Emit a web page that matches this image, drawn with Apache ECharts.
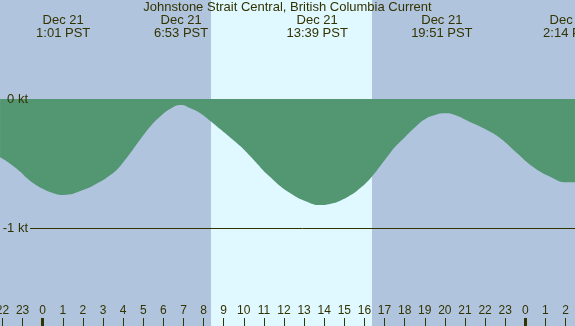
<!DOCTYPE html>
<html>
<head>
<meta charset="utf-8">
<script src="https://cdn.jsdelivr.net/npm/echarts@6/dist/echarts.min.js"></script>
<style>
  html, body { margin: 0; padding: 0; background: #B0C4DE; }
  #main { width: 575px; height: 326px; }
</style>
</head>
<body>
<div id="main"></div>
<script>
// hours since midnight Dec 21 (PST) and current in knots
var hours = [-2.12, -1.62, -1.13, -0.80, -0.48, 0.00, 0.36, 1.01, 2.00, 2.85, 3.30, 3.70, 4.10, 4.49, 4.84, 5.34, 5.83, 6.33, 6.88, 7.32, 7.82, 8.32, 8.82, 9.31, 9.81, 10.31, 11.30, 12.30, 13.29, 13.79, 14.29, 14.79, 15.28, 15.78, 16.28, 16.78, 17.27, 17.52, 18.02, 18.52, 19.01, 19.51, 20.01, 20.50, 21.25, 22.09, 22.74, 23.58, 24.38, 25.23, 26.07, 26.47];
var knots = [-0.451, -0.500, -0.560, -0.610, -0.650, -0.695, -0.719, -0.742, -0.704, -0.640, -0.595, -0.545, -0.470, -0.390, -0.315, -0.214, -0.137, -0.077, -0.046, -0.070, -0.108, -0.168, -0.232, -0.295, -0.362, -0.440, -0.601, -0.727, -0.804, -0.820, -0.812, -0.787, -0.747, -0.690, -0.616, -0.520, -0.420, -0.372, -0.294, -0.219, -0.157, -0.124, -0.111, -0.124, -0.178, -0.240, -0.302, -0.418, -0.524, -0.601, -0.644, -0.644];

// slack / max current events
var eventHours = [1.017, 6.883, 13.65, 19.85, 26.233];
var eventLabels = ['Dec 21\n1:01 PST', 'Dec 21\n6:53 PST', 'Dec 21\n13:39 PST', 'Dec 21\n19:51 PST', 'Dec 22\n2:14 PST'];

// hour tick labels along the bottom
var hourTicks = [-2, -1, 0, 1, 2, 3, 4, 5, 6, 7, 8, 9, 10, 11, 12, 13, 14, 15, 16, 17, 18, 19, 20, 21, 22, 23, 24, 25, 26];
var midnightTicks = [0, 24];

var sunrise = 8.37, sunset = 16.377;
var kTicks = [0, -1];

var xMin = -2.124, xMax = 26.472;
var textColor = '#333300';
var font = 'Liberation Sans';

var chart = echarts.init(document.getElementById('main'));

var baseX = {
    type: 'value', min: xMin, max: xMax, gridIndex: 0, z: 5,
    splitLine: {show: false}, axisLine: {show: false, onZero: false}
};

chart.setOption({
    animation: false,
    textStyle: {fontFamily: font},
    title: {
        text: 'Johnstone Strait Central, British Columbia Current',
        left: 'center', top: 1, padding: 0,
        textStyle: {fontSize: 13, fontWeight: 'normal', color: textColor, fontFamily: font}
    },
    grid: {
        left: 0, right: 0, top: 0, bottom: 0,
        containLabel: false, outerBoundsMode: 'none',
        show: true, backgroundColor: '#B0C4DE', borderWidth: 0
    },
    xAxis: [
        Object.assign({}, baseX, {
            position: 'bottom',
            axisTick: {show: true, inside: true, length: 8, customValues: hourTicks, lineStyle: {color: textColor, width: 1}},
            axisLabel: {
                show: true, inside: true, margin: 9, customValues: hourTicks,
                fontSize: 12, color: textColor, fontFamily: font,
                formatter: function (v) { return String(((Math.round(v) % 24) + 24) % 24); }
            }
        }),
        Object.assign({}, baseX, {
            position: 'top',
            axisTick: {show: false},
            axisLabel: {
                show: true, inside: true, margin: 14, customValues: eventHours,
                fontSize: 13, lineHeight: 13, color: textColor, fontFamily: font,
                formatter: function (v) { return eventLabels[eventHours.indexOf(v)]; }
            }
        }),
        Object.assign({}, baseX, {
            position: 'bottom',
            axisTick: {show: true, inside: true, length: 8, customValues: midnightTicks, lineStyle: {color: textColor, width: 3}},
            axisLabel: {show: false}
        })
    ],
    yAxis: {
        type: 'value', min: -1.756, max: 0.766, z: 5,
        splitLine: {show: false}, axisLine: {show: false, onZero: false}, axisTick: {show: false},
        axisLabel: {
            show: true, inside: true, align: 'right', margin: 28, customValues: kTicks,
            fontSize: 13, color: textColor, fontFamily: font,
            formatter: function (v) { return v + ' kt'; }
        }
    },
    series: [
        {
            type: 'line', z: 1, data: [], silent: true,
            markArea: {
                silent: true,
                itemStyle: {color: '#E0F8FF'},
                data: [[{xAxis: sunrise}, {xAxis: sunset}]]
            }
        },
        {
            type: 'line', z: 2,
            data: hours.map(function (h, i) { return [h, knots[i]]; }),
            smooth: 0.5, showSymbol: false, symbol: 'none',
            lineStyle: {width: 0},
            areaStyle: {color: '#529672', opacity: 1, origin: 0},
            markLine: {
                silent: true, symbol: 'none', label: {show: false},
                lineStyle: {color: textColor, width: 1, type: 'solid'},
                data: [[{coord: [-0.63, -1]}, {coord: [xMax, -1]}]]
            }
        }
    ]
});
</script>
</body>
</html>
